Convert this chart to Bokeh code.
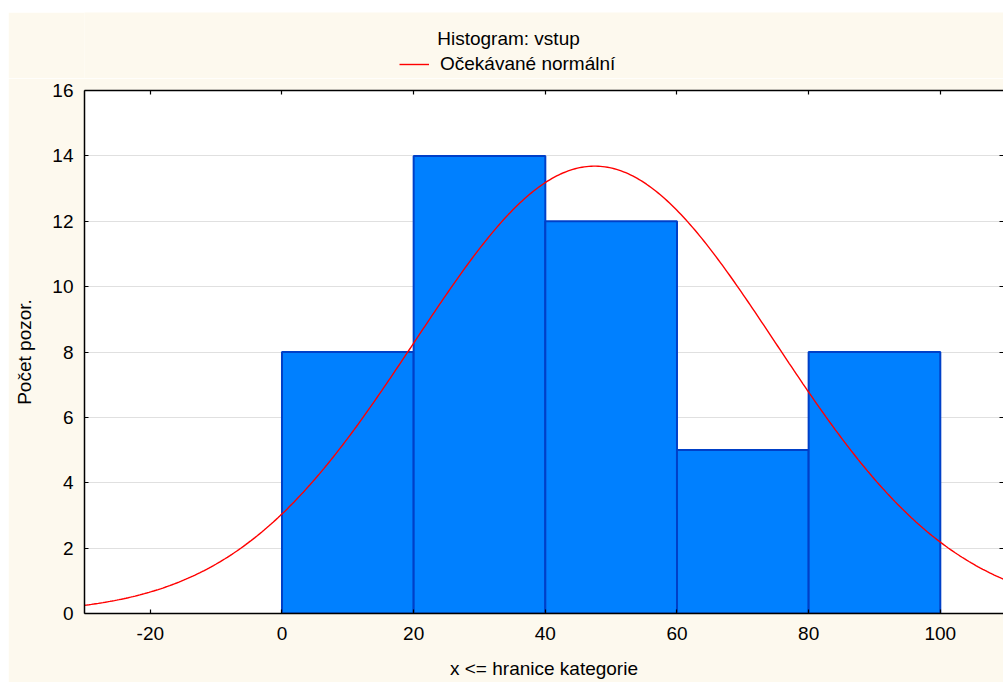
import numpy as np
from bokeh.plotting import figure
from bokeh.models import (ColumnDataSource, FixedTicker, LinearAxis, Label,
                          Legend, LegendItem, Spacer, Range1d)
from bokeh.layouts import column, row
from bokeh.embed import file_html
from bokeh.resources import INLINE

# Histogram of "vstup": class upper bounds and observed counts
bin_left = [0, 20, 40, 60, 80]
bin_right = [20, 40, 60, 80, 100]
counts = [8, 14, 12, 5, 8]

# Parameters of the fitted normal distribution
mean_val = 47.5
sd_val = 27.4

x_ticks = [-20, 0, 20, 40, 60, 80, 100]
y_ticks = [0, 2, 4, 6, 8, 10, 12, 14, 16]

FONT = "Liberation Sans"
CREAM = "#FDF9EE"
BAR_FILL = "#0080FF"
BAR_EDGE = "#0040C8"
CURVE = "#FF0000"

n_obs = sum(counts)
bin_w = bin_right[0] - bin_left[0]

W = 995
HEAD_H = 66
MAIN_H = 682 - 12 - HEAD_H

# ---- header band: title and legend (its frame lines up with the plot frame) ----
head = figure(width=W, height=HEAD_H, output_backend="svg", toolbar_location=None,
              x_range=Range1d(0, 1), y_range=Range1d(0, 1),
              min_border_left=0, min_border_right=0,
              min_border_top=0, min_border_bottom=0)
head.axis.visible = False
head.grid.visible = False
head.outline_line_color = None
head.background_fill_color = CREAM
head.border_fill_color = CREAM

head.add_layout(Label(x=424, y=40, x_units="screen", y_units="screen",
                      text="Histogram: vstup", text_align="center",
                      text_baseline="middle", text_font=FONT,
                      text_font_size="19px", text_color="black"))

# line renderer that only supplies the legend key
key_line = head.line(x=[np.nan, np.nan], y=[np.nan, np.nan],
                     line_color=CURVE, line_width=1.4)
legend = Legend(items=[LegendItem(label="Očekávané normální", renderers=[key_line])],
                location=(315, 3), padding=0, margin=0, spacing=0,
                border_line_color=None, background_fill_alpha=0,
                glyph_width=30, glyph_height=20, label_standoff=11,
                label_text_font=FONT, label_text_font_size="19px",
                label_text_color="black")
head.add_layout(legend, "center")

# ---- histogram ----
p = figure(width=W, height=MAIN_H, output_backend="svg",
           toolbar_location=None,
           x_range=Range1d(-30, 109.6), y_range=Range1d(0, 16),
           min_border_left=76, min_border_top=12, min_border_bottom=69,
           min_border_right=0)
p.border_fill_color = CREAM
p.background_fill_color = "white"
p.outline_line_color = None

bars = ColumnDataSource(dict(left=bin_left, right=bin_right, top=counts,
                             bottom=[0] * len(counts)))
p.quad(left="left", right="right", top="top", bottom="bottom", source=bars,
       fill_color=BAR_FILL, line_color=BAR_EDGE, line_width=2)

# Expected normal frequencies per class
xs = np.linspace(-30, 109.6, 400)
ys = n_obs * bin_w * np.exp(-0.5 * ((xs - mean_val) / sd_val) ** 2) / (sd_val * np.sqrt(2 * np.pi))
p.line(xs, ys, line_color=CURVE, line_width=1.4)

def style_axis(ax, ticks, labels=True):
    ax.ticker = FixedTicker(ticks=ticks)
    ax.minor_tick_line_color = None
    ax.major_tick_in = 4
    ax.major_tick_out = 0
    ax.axis_line_color = "black"
    ax.axis_line_width = 1.5
    ax.major_tick_line_color = "black"
    ax.major_tick_line_width = 1.2
    if labels:
        ax.major_label_text_font = FONT
        ax.major_label_text_font_size = "19px"
        ax.major_label_text_color = "black"
        ax.major_label_overrides = {t: (f"-{abs(t)}" if t < 0 else str(t)) for t in ticks}
    else:
        ax.major_label_overrides = {t: "" for t in ticks}
        ax.major_label_standoff = 0

style_axis(p.xaxis[0], x_ticks)
style_axis(p.yaxis[0], y_ticks)
p.xaxis[0].major_label_standoff = 13
p.yaxis[0].major_label_standoff = 11

p.xaxis[0].axis_label = "x <= hranice kategorie"
p.yaxis[0].axis_label = "Počet pozor."
for ax in (p.xaxis[0], p.yaxis[0]):
    ax.axis_label_text_font = FONT
    ax.axis_label_text_font_size = "19px"
    ax.axis_label_text_font_style = "normal"
    ax.axis_label_text_color = "black"
p.xaxis[0].axis_label_standoff = 15
p.yaxis[0].axis_label_standoff = 14

top_ax = LinearAxis()
style_axis(top_ax, x_ticks, labels=False)
p.add_layout(top_ax, "above")

right_ax = LinearAxis()
style_axis(right_ax, y_ticks, labels=False)
right_ax.axis_line_color = None
p.add_layout(right_ax, "right")

p.xgrid.grid_line_color = None
p.ygrid.ticker = FixedTicker(ticks=y_ticks)
p.ygrid.grid_line_color = "#E0E0E0"
p.ygrid.grid_line_width = 1

layout = column(Spacer(width=1003, height=12),
                row(Spacer(width=8, height=682 - 12), column(head, p)))

open("out.html", "w").write(file_html(layout, INLINE))
